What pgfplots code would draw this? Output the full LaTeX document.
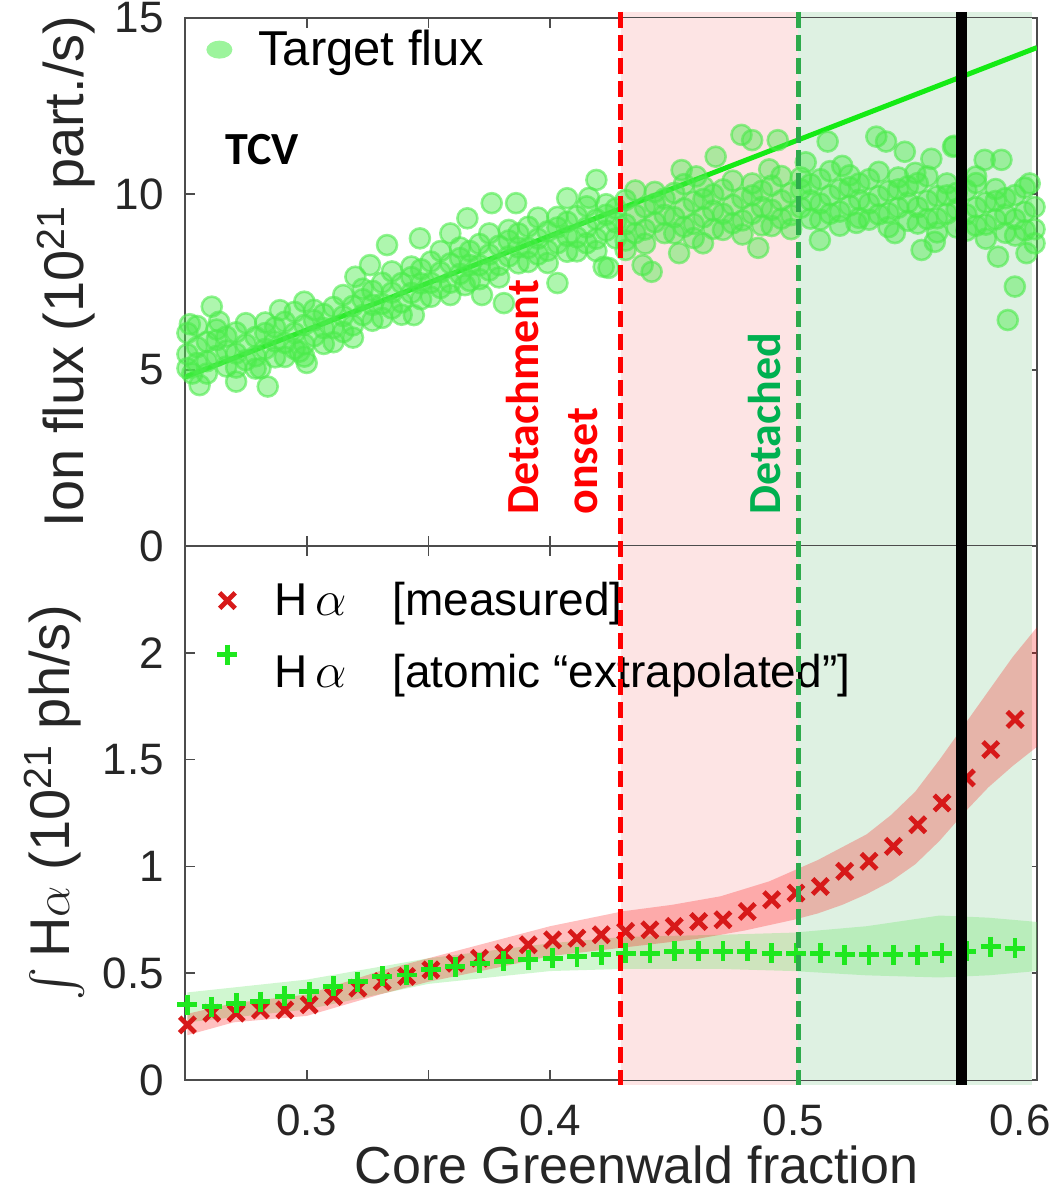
\documentclass[border=0pt]{standalone}
\usepackage{fontspec}
\setmainfont{Liberation Sans}
\newfontfamily\calfont{Carlito}
\usepackage{exscale}
\usepackage{pgfplots}
\pgfplotsset{compat=1.18}

\definecolor{ptgreen}{RGB}{75,235,75}
\definecolor{fitgreen}{RGB}{20,235,20}
\definecolor{pinkbg}{RGB}{253,228,228}
\definecolor{greenbg}{RGB}{222,241,226}
\definecolor{dashgreen}{RGB}{45,170,75}
\definecolor{detgreen}{RGB}{0,176,80}
\definecolor{mred}{RGB}{215,25,25}
\definecolor{mgreen}{RGB}{30,232,30}
\definecolor{bandgreen}{RGB}{100,230,100}

\pgfplotsset{
  panel/.style={
    width=426pt, scale only axis,
    xmin=0.25, xmax=0.6,
    axis line style={black!70, line width=0.8pt},
    every tick/.style={black!70, line width=0.8pt},
    major tick length=5pt, minor tick length=5pt,
    tick align=inside,
    xtick={0.3,0.4,0.5,0.6}, minor xtick={0.35,0.45,0.55},
    /pgf/number format/assume math mode=true,
    ticklabel style={font=\fontsize{22}{24}\selectfont, text=black!85},
    yticklabel style={xshift=-7pt},
    xticklabel style={yshift=-9pt},
    every axis y label/.style={rotate=90, anchor=base, inner sep=0pt,
      font=\fontsize{28}{30}\selectfont, text=black!85},
    every axis x label/.style={at={(axis description cs:0.53,0)}, anchor=north, yshift=-29.5pt,
      font=\fontsize{26}{30}\selectfont, text=black!85},
  },
  fluxleg/.style={legend image code/.code={\path[draw=none,fill=none] (0pt,0pt) rectangle (29.5pt,0.1pt);
    \fill[ptgreen!55, draw=none] (12pt,0pt) ellipse[x radius=6.5pt, y radius=4.5pt];}},
  xleg/.style={legend image code/.code={\path[draw=none,fill=none] (0pt,0pt) rectangle (37.5pt,0.1pt);
    \draw[mred, mark=x, mark size=5.5pt, line width=2.4pt, /tikz/only marks] plot coordinates {(16pt,0pt)};}},
  pleg/.style={legend image code/.code={\path[draw=none,fill=none] (0pt,0pt) rectangle (37.5pt,0.1pt);
    \draw[mgreen, mark=+, mark size=5pt, line width=2.4pt, /tikz/only marks] plot coordinates {(16pt,9pt)};}},
}

\begin{document}
\begin{tikzpicture}
\begin{axis}[panel, name=top, height=264pt,
  ymin=0, ymax=15, ytick={0,5,10,15},
  xticklabels={},
  ylabel={Ion flux (10\textsuperscript{21} part./s)},
  ylabel style={at={(axis description cs:-0.1197,0.52)}},
  legend style={at={(axis description cs:0,1)}, anchor=north west, draw=none, fill=none,
    font=\fontsize{24.5}{27}\selectfont, xshift=2pt, yshift=-2pt},
  legend cell align=left,
]
\fill[pinkbg] (axis cs:0.429,0) rectangle (axis cs:0.502,15);
\fill[greenbg] (axis cs:0.502,0) rectangle (axis cs:0.598,15);

\addplot[only marks, mark=*, mark size=5pt,
  mark options={draw=ptgreen, fill=ptgreen, fill opacity=0.45, draw opacity=0.6, line width=1.3pt},
  fluxleg]
table {
0.251 6.05
0.251 5.45
0.251 5.05
0.255 6.25
0.255 5.65
0.255 5.20
0.259 5.80
0.259 5.25
0.259 4.90
0.263 6.15
0.263 5.85
0.263 5.40
0.267 5.55
0.267 5.10
0.267 5.95
0.271 6.07
0.271 5.47
0.271 5.07
0.275 6.33
0.275 5.73
0.275 5.28
0.279 5.94
0.279 5.39
0.279 5.04
0.283 6.35
0.283 6.05
0.283 5.60
0.287 5.81
0.287 5.36
0.287 6.21
0.291 6.37
0.291 5.77
0.291 5.37
0.295 6.65
0.295 6.05
0.295 5.60
0.299 6.28
0.299 5.73
0.299 5.38
0.303 6.71
0.303 6.41
0.303 5.96
0.307 6.19
0.307 5.74
0.307 6.59
0.311 6.79
0.311 6.19
0.311 5.79
0.315 7.13
0.315 6.53
0.315 6.08
0.319 6.82
0.319 6.27
0.319 5.92
0.323 7.31
0.323 7.01
0.323 6.56
0.327 6.85
0.327 6.40
0.327 7.25
0.331 7.48
0.331 6.88
0.331 6.48
0.335 7.80
0.335 7.20
0.335 6.75
0.339 7.47
0.339 6.92
0.339 6.57
0.343 7.94
0.343 7.64
0.343 7.19
0.347 7.46
0.347 7.01
0.347 7.86
0.351 8.08
0.351 7.48
0.351 7.08
0.355 8.38
0.355 7.78
0.355 7.33
0.359 8.03
0.359 7.48
0.359 7.13
0.363 8.48
0.363 8.18
0.363 7.73
0.367 7.98
0.367 7.53
0.367 8.38
0.371 8.58
0.371 7.98
0.371 7.58
0.375 8.88
0.375 8.28
0.375 7.83
0.379 8.53
0.379 7.98
0.379 7.63
0.383 8.98
0.383 8.68
0.383 8.23
0.387 8.48
0.387 8.03
0.387 8.88
0.391 9.07
0.391 8.47
0.391 8.07
0.395 9.33
0.395 8.73
0.395 8.28
0.399 8.94
0.399 8.39
0.399 8.04
0.403 9.35
0.403 9.05
0.403 8.60
0.407 8.81
0.407 8.36
0.407 9.21
0.411 9.37
0.411 8.77
0.411 8.37
0.415 9.65
0.415 9.05
0.415 8.60
0.419 9.28
0.419 8.73
0.419 8.38
0.423 9.71
0.423 9.41
0.423 8.96
0.427 9.19
0.427 8.74
0.427 9.59
0.431 9.83
0.431 9.14
0.431 8.68
0.435 10.10
0.435 9.41
0.435 8.89
0.439 9.62
0.439 8.99
0.439 8.59
0.443 10.06
0.443 9.72
0.443 9.20
0.447 9.41
0.447 8.89
0.447 9.87
0.451 10.03
0.451 9.34
0.451 8.88
0.455 10.28
0.455 9.59
0.455 9.07
0.459 9.78
0.459 9.15
0.459 8.75
0.463 10.20
0.463 9.86
0.463 9.34
0.467 9.53
0.467 9.01
0.467 9.99
0.471 10.13
0.471 9.44
0.471 8.98
0.475 10.38
0.475 9.69
0.475 9.17
0.479 9.88
0.479 9.25
0.479 8.85
0.483 10.30
0.483 9.96
0.483 9.44
0.487 9.63
0.487 9.11
0.487 10.09
0.491 10.24
0.491 9.55
0.491 9.09
0.495 10.51
0.495 9.82
0.495 9.30
0.499 10.03
0.499 9.40
0.499 9.00
0.503 10.47
0.503 10.13
0.503 9.61
0.507 9.82
0.507 9.30
0.507 10.28
0.511 10.42
0.511 9.73
0.511 9.27
0.515 10.65
0.515 9.96
0.515 9.44
0.519 10.13
0.519 9.50
0.519 9.10
0.523 10.53
0.523 10.19
0.523 9.67
0.527 9.84
0.527 9.32
0.527 10.30
0.531 10.42
0.531 9.73
0.531 9.27
0.535 10.63
0.535 9.94
0.535 9.42
0.539 10.09
0.539 9.46
0.539 9.06
0.543 10.47
0.543 10.13
0.543 9.61
0.547 9.76
0.547 9.24
0.547 10.22
0.551 10.31
0.551 9.62
0.551 9.16
0.555 10.50
0.555 9.81
0.555 9.29
0.559 9.94
0.559 9.31
0.559 8.91
0.563 10.30
0.563 9.96
0.563 9.44
0.567 9.57
0.567 9.05
0.567 10.03
0.571 10.11
0.571 9.42
0.571 8.96
0.575 10.31
0.575 9.62
0.575 9.10
0.579 9.76
0.579 9.13
0.579 8.73
0.583 10.14
0.583 9.80
0.583 9.28
0.587 9.42
0.587 8.90
0.587 9.88
0.591 9.97
0.591 9.28
0.591 8.82
0.595 10.18
0.595 9.49
0.595 8.97
0.599 9.63
0.599 9.00
0.599 8.60
0.261 6.80
0.264 6.37
0.256 4.57
0.271 4.67
0.284 4.53
0.281 5.05
0.289 6.70
0.299 6.94
0.300 5.20
0.297 5.52
0.320 7.65
0.326 7.98
0.333 8.55
0.3465 8.74
0.344 6.56
0.359 8.88
0.366 9.31
0.376 9.74
0.372 7.13
0.381 6.90
0.365 7.41
0.386 9.74
0.407 9.88
0.403 7.47
0.422 7.93
0.419 10.40
0.416 9.89
0.424 7.90
0.4786 11.68
0.483 11.53
0.4935 11.53
0.468 11.06
0.454 10.68
0.453 8.32
0.4855 8.47
0.4628 8.60
0.438 7.98
0.4417 7.79
0.431 8.41
0.534 11.63
0.538 11.49
0.5457 11.20
0.5566 11.00
0.514 11.49
0.5655 11.34
0.5108 8.69
0.5526 8.41
0.558 8.64
0.5416 8.89
0.5258 9.18
0.5785 10.97
0.5854 10.97
0.584 8.22
0.5957 8.32
0.5909 7.37
0.588 6.42
0.566 11.37
0.505 10.90
0.520 10.80
0.460 10.50
0.490 10.70
0.550 10.60
0.575 10.50
0.597 10.30
0.252 6.30
0.253 4.90
};
\addlegendentry{Target flux}

\addplot[fitgreen, line width=2.5pt, forget plot] coordinates {(0.25,4.80) (0.6,14.16)};

\node[font=\calfont\bfseries\fontsize{23}{25}\selectfont, anchor=center] at (axis cs:0.2816,11.25) {TCV};
\node[font=\calfont\bfseries\fontsize{23}{25}\selectfont, text=red, rotate=90, anchor=west, inner sep=0pt]
  at (axis cs:0.3888,0.88) {Detachment};
\node[font=\calfont\bfseries\fontsize{23}{25}\selectfont, text=red, rotate=90, anchor=west, inner sep=0pt]
  at (axis cs:0.4135,0.88) {onset};
\node[font=\calfont\bfseries\fontsize{23}{25}\selectfont, text=detgreen, rotate=90, anchor=west, inner sep=0pt]
  at (axis cs:0.4882,0.88) {Detached};

\coordinate (rT) at (axis cs:0.429,15);
\coordinate (gT) at (axis cs:0.502,15);
\coordinate (kT) at (axis cs:0.569,15);
\coordinate (eT) at (axis cs:0.598,15);
\end{axis}

\begin{axis}[panel, name=bot, height=267pt,
  at={(top.south west)}, anchor=north west,
  ymin=0, ymax=2.5, ytick={0,0.5,1,1.5,2},
  xticklabels={0.3,0.4,0.5,\hspace*{-17pt}0.6},
  xlabel={Core Greenwald fraction},
  ylabel={$\int$\,H$\alpha$ (10\textsuperscript{21} ph/s)},
  ylabel style={at={(axis description cs:-0.135,0.52)}},
  legend style={at={(axis description cs:0,1)}, anchor=north west, draw=none, fill=none,
    font=\fontsize{23}{26}\selectfont, xshift=2pt, yshift=-14pt, row sep=11pt},
  legend cell align=left,
]
\fill[pinkbg] (axis cs:0.429,0) rectangle (axis cs:0.502,2.5);
\fill[greenbg] (axis cs:0.502,0) rectangle (axis cs:0.598,2.5);

% atomic band
\addplot[draw=none, fill=bandgreen, fill opacity=0.3, forget plot] coordinates {
(0.251,0.27) (0.30,0.33) (0.35,0.45) (0.40,0.51) (0.43,0.52) (0.47,0.52) (0.50,0.51)
(0.53,0.49) (0.56,0.48) (0.58,0.49) (0.60,0.51)
(0.60,0.74) (0.58,0.76) (0.56,0.77) (0.53,0.72) (0.50,0.69) (0.47,0.68) (0.43,0.67)
(0.40,0.64) (0.35,0.57) (0.30,0.47) (0.251,0.41)} -- cycle;
% measured band
\addplot[draw=none, fill=red, fill opacity=0.25, forget plot] coordinates {
(0.251,0.21) (0.27,0.27) (0.30,0.30) (0.33,0.40) (0.35,0.46) (0.38,0.53) (0.40,0.58)
(0.43,0.62) (0.46,0.66) (0.48,0.70) (0.50,0.75) (0.51,0.78) (0.52,0.82) (0.53,0.87)
(0.54,0.93) (0.55,1.01) (0.56,1.12) (0.57,1.25) (0.58,1.37) (0.59,1.47) (0.60,1.56)
(0.60,2.12) (0.59,1.98) (0.58,1.82) (0.57,1.66) (0.56,1.50) (0.55,1.35) (0.54,1.24)
(0.53,1.15) (0.52,1.09) (0.51,1.03) (0.50,0.98) (0.49,0.93) (0.47,0.86) (0.45,0.82)
(0.43,0.79) (0.40,0.72) (0.38,0.66) (0.35,0.57) (0.33,0.51) (0.30,0.40)
(0.27,0.36) (0.251,0.31)} -- cycle;

\addplot[only marks, mark=x, mark size=5.5pt, mred, mark options={line width=2.4pt}, xleg] coordinates {
(0.251,0.258) (0.261,0.313) (0.271,0.313) (0.281,0.328) (0.291,0.328) (0.301,0.352)
(0.311,0.391) (0.321,0.430) (0.331,0.461) (0.341,0.485) (0.351,0.516) (0.361,0.547)
(0.371,0.570) (0.381,0.594) (0.391,0.633) (0.401,0.656) (0.411,0.664) (0.421,0.680)
(0.431,0.696) (0.441,0.703) (0.451,0.719) (0.461,0.742) (0.471,0.750) (0.481,0.789)
(0.491,0.844) (0.501,0.875) (0.511,0.906) (0.521,0.977) (0.531,1.024) (0.541,1.094)
(0.551,1.195) (0.561,1.297) (0.571,1.414) (0.581,1.547) (0.591,1.688)};
\addlegendentry{H\,$\alpha$\quad[measured]}

\addplot[only marks, mark=+, mark size=5pt, mgreen, mark options={line width=2.4pt}, pleg] coordinates {
(0.251,0.352) (0.261,0.344) (0.271,0.360) (0.281,0.367) (0.291,0.391) (0.301,0.414)
(0.311,0.438) (0.321,0.461) (0.331,0.485) (0.341,0.492) (0.351,0.516) (0.361,0.531)
(0.371,0.547) (0.381,0.555) (0.391,0.563) (0.401,0.570) (0.411,0.578) (0.421,0.586)
(0.431,0.594) (0.441,0.594) (0.451,0.602) (0.461,0.602) (0.471,0.602) (0.481,0.602)
(0.491,0.594) (0.501,0.594) (0.511,0.594) (0.521,0.586) (0.531,0.586) (0.541,0.586)
(0.551,0.586) (0.561,0.594) (0.571,0.602) (0.581,0.625) (0.591,0.617)};
\addlegendentry{H\,$\alpha$\quad[atomic “extrapolated”]}

\coordinate (rB) at (axis cs:0.429,0);
\coordinate (gB) at (axis cs:0.502,0);
\coordinate (kB) at (axis cs:0.569,0);
\coordinate (eB) at (axis cs:0.598,0);
\end{axis}

% shading overshoot beyond the boxes
\fill[pinkbg] ([yshift=0.4pt]rT) rectangle ([yshift=3pt]gT);
\fill[greenbg] ([yshift=0.4pt]gT) rectangle ([yshift=3pt]eT);
\fill[pinkbg] ([yshift=-0.4pt]rB) rectangle ([yshift=-2.5pt]gB);
\fill[greenbg] ([yshift=-0.4pt]gB) rectangle ([yshift=-2.5pt]eB);

% marker lines across both panels
\draw[red, line width=2.5pt, dash pattern=on 8pt off 3.5pt] ([yshift=3pt]rT) -- ([yshift=-2.5pt]rB);
\draw[dashgreen, line width=2.5pt, dash pattern=on 8pt off 3.5pt] ([yshift=3pt]gT) -- ([yshift=-2.5pt]gB);
\draw[black, line width=5.5pt] ([yshift=3pt]kT) -- ([yshift=-2.5pt]kB);

\pgfresetboundingbox
\path ([shift={(-92.5pt,9pt)}]top.north west) rectangle ([shift={(437pt,-588.5pt)}]top.north west);
\end{tikzpicture}
\end{document}
